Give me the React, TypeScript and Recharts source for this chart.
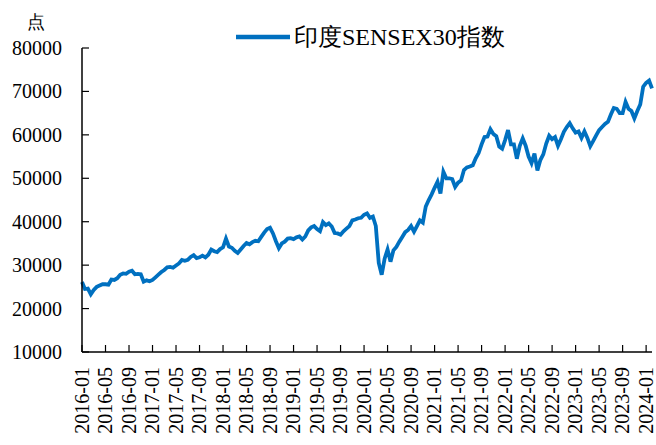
import { LineChart, Line, XAxis, YAxis, Legend } from 'recharts';

// 印度SENSEX30指数 at roughly two points a month (1st / 16th)
const sensex2016 = [26100, 24500, 24600, 23300, 24300, 25000, 25300, 25600, 25600, 25500, 26700, 26600,
  27000, 27800, 28100, 28000, 28500, 28700, 27900, 28000, 27900, 26200, 26500, 26300];
const sensex2017 = [26600, 27200, 27800, 28400, 28900, 29500, 29600, 29400, 29900, 30400, 31200, 31000,
  31200, 31900, 32300, 31600, 31800, 32200, 31800, 32400, 33600, 33200, 33000, 33700];
const sensex2018 = [34100, 36100, 34300, 34000, 33300, 32800, 33600, 34400, 35100, 34800, 35300, 35600,
  35500, 36500, 37500, 38300, 38600, 37300, 35500, 33900, 35000, 35400, 36100, 36200];
const sensex2019 = [36000, 36400, 36600, 35900, 36600, 38000, 38700, 39000, 38300, 37800, 39900, 39200,
  39600, 38900, 37400, 37300, 37000, 37800, 38400, 39000, 40300, 40500, 40800, 40900];
const sensex2020 = [41600, 41900, 40900, 41200, 39000, 30500, 27800, 31500, 33600, 30800, 33400, 34200,
  35400, 36500, 37600, 38100, 39000, 37700, 39000, 40300, 39800, 43500, 45000, 46300];
const sensex2021 = [47800, 49200, 46500, 51500, 50000, 50000, 49800, 48000, 49000, 49500, 51900, 52500,
  52700, 53000, 54600, 55800, 57800, 59500, 59600, 61300, 60200, 59700, 57300, 56800];
const sensex2022 = [58800, 61100, 57800, 57800, 54500, 57500, 59200, 57500, 55000, 53500, 55700, 51800,
  54200, 55500, 58000, 59800, 59000, 59500, 57500, 59000, 60700, 61800, 62700, 61500];
const sensex2023 = [60500, 60800, 59300, 60800, 59300, 57400, 58600, 59900, 61100, 61800, 62500, 63000,
  64700, 66200, 66000, 65000, 65000, 67600, 66000, 65500, 63800, 65500, 67000, 71100];
const sensex2024 = [72000, 72500, 70700];

const tickLabels = ['2016-01', '2016-05', '2016-09', '2017-01', '2017-05', '2017-09', '2018-01', '2018-05',
  '2018-09', '2019-01', '2019-05', '2019-09', '2020-01', '2020-05', '2020-09', '2021-01', '2021-05',
  '2021-09', '2022-01', '2022-05', '2022-09', '2023-01', '2023-05', '2023-09', '2024-01'];
const yTicks = [10000, 20000, 30000, 40000, 50000, 60000, 70000, 80000];

const years: [number, number[]][] = [
  [2016, sensex2016], [2017, sensex2017], [2018, sensex2018], [2019, sensex2019], [2020, sensex2020],
  [2021, sensex2021], [2022, sensex2022], [2023, sensex2023], [2024, sensex2024],
];

// t = months since 2016-01
const data = years.flatMap(([year, vals]) =>
  vals.map((v, i) => ({ t: (year - 2016) * 12 + i / 2, value: v }))
);

const FONT = "Tinos, 'Liberation Serif', 'Times New Roman', 'DejaVu Serif', serif";
const BLUE = '#0070C0';

const XTick = (props: any) => {
  const { x, y, payload } = props;
  const label = tickLabels[Math.round(payload.value / 4)];
  return (
    <g>
      <line x1={x} x2={x} y1={y - 15} y2={y - 22} stroke="#000" strokeWidth={1.2} />
      <text
        x={x}
        y={y}
        transform={`rotate(-90 ${x} ${y})`}
        textAnchor="end"
        dy="0.33em"
        fontSize={20}
        fontFamily={FONT}
        style={{ fontFamily: FONT }}
        fill="#000"
      >
        {label}
      </text>
    </g>
  );
};

const YTick = (props: any) => {
  const { x, y, payload } = props;
  return (
    <g>
      <line x1={x + 20} x2={x + 27} y1={y} y2={y} stroke="#000" strokeWidth={1.2} />
      <text
        x={x}
        y={y}
        textAnchor="end"
        dy="0.35em"
        fontSize={20}
        fontFamily={FONT}
        style={{ fontFamily: FONT }}
        fill="#000"
      >
        {payload.value}
      </text>
    </g>
  );
};

const LegendContent = () => (
  <div style={{ display: 'flex', alignItems: 'center', fontFamily: FONT, fontSize: 24, whiteSpace: 'nowrap' }}>
    <svg width={54} height={8}>
      <line x1={0} x2={54} y1={4} y2={4} stroke={BLUE} strokeWidth={4.5} strokeLinecap="round" />
    </svg>
    <span style={{ marginLeft: 4, color: '#000' }}>印度SENSEX30指数</span>
  </div>
);

export default function App() {
  return (
    <div style={{ position: 'absolute', left: 0, top: 0, background: '#fff', fontFamily: FONT }}>
      <LineChart width={656} height={445} data={data} margin={{ top: 48, right: 4, bottom: 0, left: 0 }}>
        <XAxis
          type="number"
          dataKey="t"
          domain={[0, 97]}
          ticks={tickLabels.map((_, i) => i * 4)}
          height={93}
          tickSize={0}
          tickMargin={15}
          tick={<XTick />}
          axisLine={{ stroke: '#000', strokeWidth: 1.5 }}
          interval={0}
        />
        <YAxis
          domain={[10000, 80000]}
          ticks={yTicks}
          width={82}
          tickSize={0}
          tickMargin={20}
          tick={<YTick />}
          axisLine={{ stroke: '#000', strokeWidth: 1.5 }}
          interval={0}
          label={{
            value: '点',
            content: (p: any) => (
              <text
                x={(p.viewBox?.x ?? 0) + 36}
                y={(p.viewBox?.y ?? 48) - 20}
                textAnchor="middle"
                fontSize={18}
                fontFamily={FONT}
                fill="#000"
              >
                点
              </text>
            ),
          }}
        />
        <Legend
          layout="vertical"
          verticalAlign="middle"
          align="center"
          wrapperStyle={{ top: 21, left: 236, width: 'auto' }}
          content={<LegendContent />}
        />
        <Line
          type="linear"
          dataKey="value"
          stroke={BLUE}
          strokeWidth={3.8}
          dot={false}
          isAnimationActive={false}
          name="印度SENSEX30指数"
        />
      </LineChart>
    </div>
  );
}
